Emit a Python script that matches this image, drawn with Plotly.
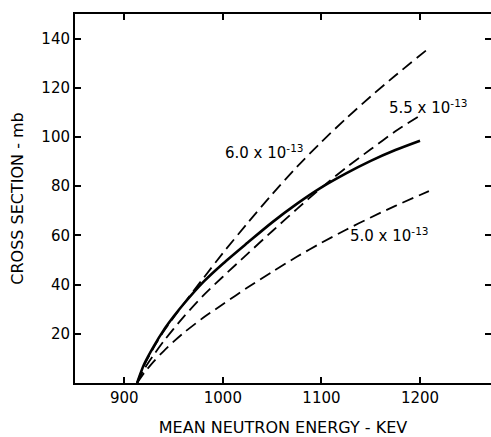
import plotly.graph_objects as go

# Energies (keV) where each curve is sampled
energy_solid = [913, 920, 930, 940, 950, 960, 980, 1000, 1025, 1050, 1075, 1100, 1125, 1150, 1175, 1200]
xs_solid = [0, 7.5, 15, 21.5, 27, 32, 41, 48.5, 57, 65.3, 72.8, 79.5, 85.2, 90.3, 94.7, 98.5]

energy_60 = [913, 920, 930, 940, 960, 980, 1000, 1025, 1050, 1075, 1100, 1125, 1150, 1175, 1208]
xs_60 = [0, 7, 14.5, 21, 32, 42.5, 52.8, 65, 76.7, 87.8, 98, 107.5, 116.5, 125, 135.8]

energy_55 = [913, 920, 930, 940, 950, 960, 980, 1000, 1025, 1050, 1075, 1100, 1125, 1150, 1175, 1203]
xs_55 = [0, 5.5, 11.5, 17, 22, 26.8, 35.5, 43.2, 52.5, 61.7, 70.7, 79.4, 87.5, 95, 102.3, 109.5]

energy_50 = [913, 920, 930, 940, 950, 960, 980, 1000, 1025, 1050, 1075, 1100, 1125, 1150, 1175, 1209]
xs_50 = [0, 4, 8.8, 13, 16.8, 20.3, 26.5, 32, 38.8, 45.2, 51.3, 57, 62.3, 67.3, 72, 78]

x_ticks = [900, 1000, 1100, 1200]
y_ticks = [20, 40, 60, 80, 100, 120, 140]

labels = ["6.0 x 10<sup>-13</sup>", "5.5 x 10<sup>-13</sup>", "5.0 x 10<sup>-13</sup>"]
label_pos = [(1000, 94), (1167, 112), (1127, 60)]

FONT = "DejaVu Sans"
dash = "12px,6px"

fig = go.Figure()
fig.add_trace(go.Scatter(x=energy_60, y=xs_60, mode="lines",
                         line=dict(color="black", width=1.8, dash=dash, shape="spline", smoothing=0.8)))
fig.add_trace(go.Scatter(x=energy_55, y=xs_55, mode="lines",
                         line=dict(color="black", width=1.8, dash=dash, shape="spline", smoothing=0.8)))
fig.add_trace(go.Scatter(x=energy_50, y=xs_50, mode="lines",
                         line=dict(color="black", width=1.8, dash=dash, shape="spline", smoothing=0.8)))
fig.add_trace(go.Scatter(x=energy_solid, y=xs_solid, mode="lines",
                         line=dict(color="black", width=2.6, shape="spline", smoothing=0.8)))
# invisible trace to host the mirrored (top/right) tick axes
fig.add_trace(go.Scatter(x=energy_solid, y=xs_solid, mode="lines", xaxis="x2", yaxis="y2",
                         line=dict(color="rgba(0,0,0,0)", width=0), hoverinfo="skip"))

for txt, (lx, ly) in zip(labels, label_pos):
    fig.add_annotation(x=lx, y=ly, text=txt, showarrow=False, xanchor="left", yanchor="middle",
                       font=dict(family=FONT, size=15, color="black"))

axis_common = dict(ticks="inside", ticklen=6, tickwidth=1.5, tickcolor="black",
                   showgrid=False, zeroline=False)

fig.update_layout(
    width=491, height=437,
    margin=dict(l=75, r=0, t=14, b=54),
    paper_bgcolor="white", plot_bgcolor="white",
    showlegend=False,
    font=dict(family=FONT, size=15, color="black"),
    xaxis=dict(range=[850, 1272], tickvals=x_ticks, showline=True, linecolor="black", linewidth=2,
               title=dict(text="MEAN NEUTRON ENERGY - KEV", standoff=20, font=dict(size=16)),
               tickfont=dict(size=15), **axis_common),
    yaxis=dict(range=[0, 150], tickvals=y_ticks, showline=True, linecolor="black", linewidth=2,
               title=dict(text="CROSS SECTION - mb", standoff=14, font=dict(size=16)),
               tickfont=dict(size=15), **axis_common),
    xaxis2=dict(range=[850, 1272], tickvals=x_ticks, overlaying="x", side="top", anchor="y",
                showline=True, linecolor="black", linewidth=2, showticklabels=False, **axis_common),
    yaxis2=dict(range=[0, 150], tickvals=y_ticks, overlaying="y", side="right", anchor="x",
                showline=False, showticklabels=False, **axis_common),
)

fig.write_html("out.html")
